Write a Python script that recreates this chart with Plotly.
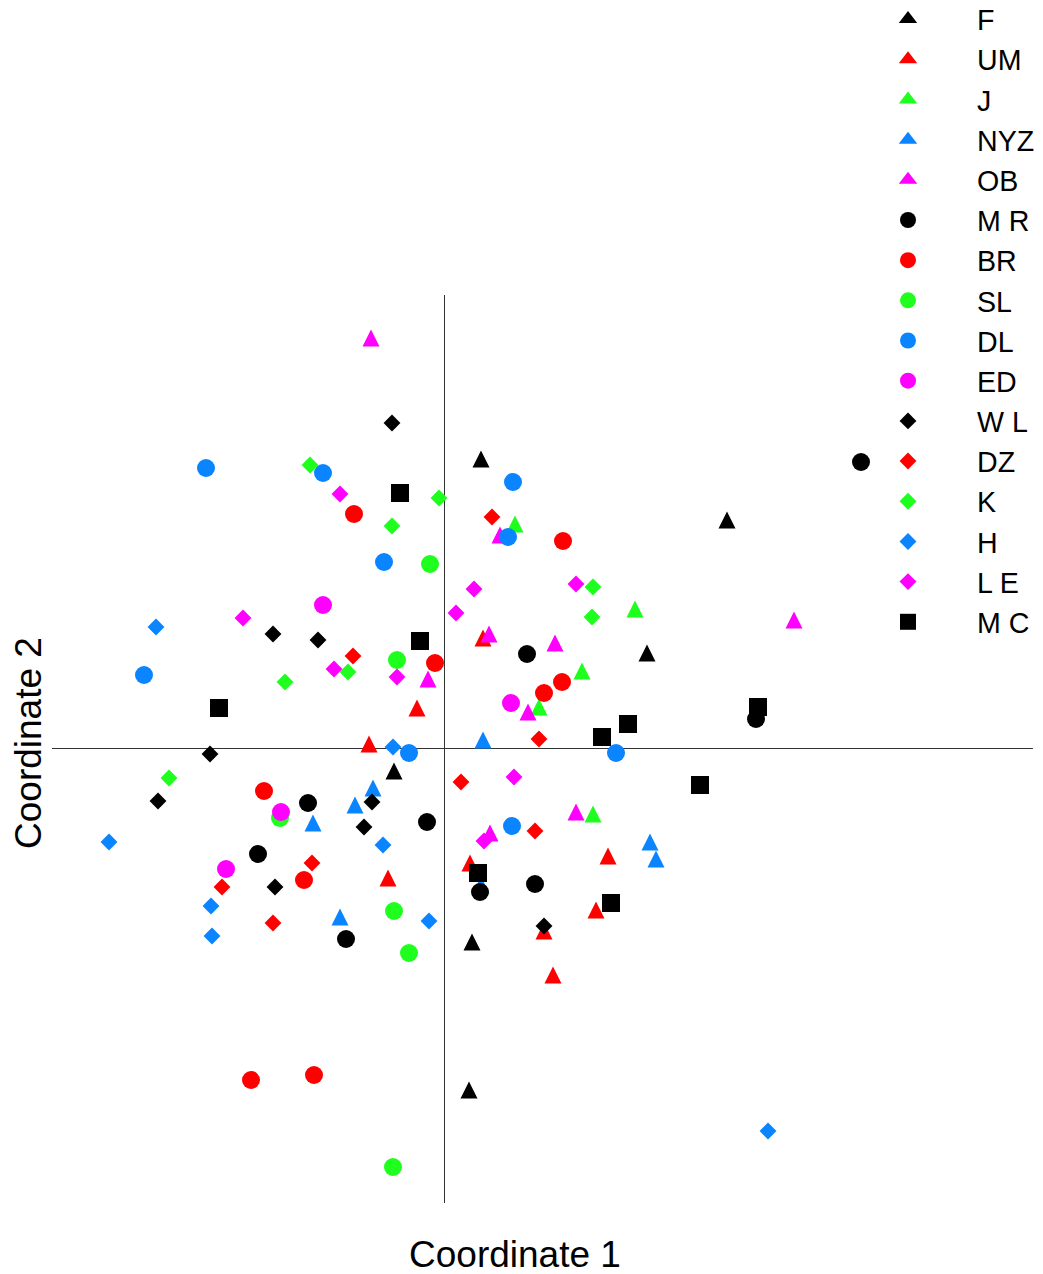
import plotly.graph_objects as go

# Principal coordinates for each population (Coordinate 1, Coordinate 2)
F_x = [0.037, 0.283, 0.203, -0.050, 0.028, 0.025]
F_y = [0.289, 0.228, 0.095, -0.023, -0.194, -0.342]

UM_x = [-0.075, -0.027, 0.039, -0.056, 0.026, 0.164, 0.152, 0.100, 0.109]
UM_y = [0.004, 0.040, 0.110, -0.130, -0.115, -0.108, -0.162, -0.183, -0.227]

J_x = [0.071, 0.191, 0.138, 0.095, 0.149]
J_y = [0.224, 0.139, 0.077, 0.041, -0.066]

NYZ_x = [0.039, -0.071, -0.089, -0.131, -0.104, 0.206, 0.212, 0.037]
NYZ_y = [0.008, -0.040, -0.057, -0.075, -0.169, -0.094, -0.111, -0.137]

OB_x = [-0.073, 0.056, 0.045, 0.111, -0.016, 0.084, 0.132, 0.046, 0.350]
OB_y = [0.410, 0.213, 0.114, 0.105, 0.069, 0.036, -0.064, -0.085, 0.128]

MR_x = [0.417, 0.083, 0.312, -0.136, -0.017, -0.186, -0.098, 0.036, 0.091]
MR_y = [0.286, 0.094, 0.029, -0.055, -0.074, -0.106, -0.191, -0.144, -0.136]

BR_x = [-0.090, 0.119, -0.009, 0.100, 0.118, -0.180, -0.140, -0.193, -0.130]
BR_y = [0.234, 0.207, 0.085, 0.055, 0.066, -0.043, -0.132, -0.332, -0.327]

SL_x = [-0.014, -0.047, -0.164, -0.050, -0.035, -0.051]
SL_y = [0.184, 0.088, -0.070, -0.163, -0.205, -0.419]

DL_x = [-0.238, -0.121, -0.060, 0.069, 0.064, -0.300, -0.035, 0.172, 0.068]
DL_y = [0.280, 0.275, 0.186, 0.266, 0.211, 0.073, -0.005, -0.005, -0.078]

ED_x = [-0.121, 0.067, -0.163, -0.218]
ED_y = [0.143, 0.045, -0.064, -0.121]

WL_x = [-0.052, -0.171, -0.126, -0.234, -0.286, -0.072, -0.080, -0.169, 0.100]
WL_y = [0.325, 0.114, 0.108, -0.006, -0.053, -0.054, -0.079, -0.139, -0.178]

DZ_x = [0.048, -0.091, 0.095, 0.017, 0.091, -0.132, -0.222, -0.171]
DZ_y = [0.231, 0.092, 0.009, -0.034, -0.083, -0.115, -0.139, -0.175]

K_x = [-0.134, -0.005, -0.052, 0.149, 0.148, -0.096, -0.159, -0.275]
K_y = [0.283, 0.250, 0.222, 0.161, 0.131, 0.076, 0.066, -0.030]

H_x = [-0.288, -0.051, -0.335, -0.061, -0.233, -0.015, -0.232, 0.324]
H_y = [0.121, 0.001, -0.094, -0.097, -0.158, -0.173, -0.188, -0.383]

LE_x = [-0.104, 0.030, 0.132, 0.012, -0.201, -0.110, -0.047, 0.070, 0.040]
LE_y = [0.254, 0.159, 0.164, 0.135, 0.130, 0.079, 0.071, -0.029, -0.093]

MC_x = [-0.044, -0.024, -0.225, 0.314, 0.184, 0.158, 0.256, 0.034, 0.167]
MC_y = [0.255, 0.107, 0.040, 0.041, 0.024, 0.011, -0.037, -0.125, -0.155]

BLACK = "#000000"
RED = "#FF0000"
GREEN = "#1EFF1E"
BLUE = "#0A84FF"
MAGENTA = "#FF00FF"

# name, x, y, symbol, colour
series = [
    ("F", F_x, F_y, "triangle", BLACK),
    ("UM", UM_x, UM_y, "triangle", RED),
    ("J", J_x, J_y, "triangle", GREEN),
    ("NYZ", NYZ_x, NYZ_y, "triangle", BLUE),
    ("OB", OB_x, OB_y, "triangle", MAGENTA),
    ("M R", MR_x, MR_y, "circle", BLACK),
    ("BR", BR_x, BR_y, "circle", RED),
    ("SL", SL_x, SL_y, "circle", GREEN),
    ("DL", DL_x, DL_y, "circle", BLUE),
    ("ED", ED_x, ED_y, "circle", MAGENTA),
    ("W L", WL_x, WL_y, "diamond", BLACK),
    ("DZ", DZ_x, DZ_y, "diamond", RED),
    ("K", K_x, K_y, "diamond", GREEN),
    ("H", H_x, H_y, "diamond", BLUE),
    ("L E", LE_x, LE_y, "diamond", MAGENTA),
    ("M C", MC_x, MC_y, "square", BLACK),
]

symbol_size = {"triangle": 17, "circle": 18, "diamond": 13, "square": 18}

# Plot-area geometry (pixels) and axis ranges
WIDTH, HEIGHT = 1043, 1274
M_L, M_R, M_T, M_B = 52, 10, 295, 71
X_RANGE = [-0.392, 0.589]
Y_RANGE = [-0.455, 0.453]
plot_h = HEIGHT - M_T - M_B
px_per_y = plot_h / (Y_RANGE[1] - Y_RANGE[0])

# Triangles are drawn with the equal-sided "arrow-up" glyph, whose anchor
# is its apex; lift each point by half the glyph height so the triangle is
# centred on its coordinate.
tri_lift = (symbol_size["triangle"] / 2) / px_per_y

fig = go.Figure()
for i, (name, xs, ys, sym, col) in enumerate(series):
    if sym == "triangle":
        fig.add_trace(go.Scatter(
            x=xs, y=[v + tri_lift for v in ys], mode="markers", name=name,
            showlegend=False, legendrank=i + 1,
            marker=dict(symbol="arrow-up", color=col,
                        size=symbol_size[sym], line=dict(width=0)),
        ))
        # legend entry with a centred triangle glyph
        fig.add_trace(go.Scatter(
            x=[None], y=[None], mode="markers", name=name,
            legendrank=i + 1,
            marker=dict(symbol="triangle-up", color=col, size=16,
                        line=dict(width=0)),
        ))
    else:
        fig.add_trace(go.Scatter(
            x=xs, y=ys, mode="markers", name=name, legendrank=i + 1,
            marker=dict(symbol=sym, color=col, size=symbol_size[sym],
                        line=dict(width=0)),
        ))

FONT = "Liberation Sans, Arial, Helvetica, sans-serif"
plot_w = WIDTH - M_L - M_R

fig.update_layout(
    width=WIDTH, height=HEIGHT,
    margin=dict(l=M_L, r=M_R, t=M_T, b=M_B, autoexpand=False),
    paper_bgcolor="white", plot_bgcolor="white",
    font=dict(family=FONT, color="black"),
    showlegend=True,
    legend=dict(
        x=(839 - M_L) / plot_w, y=1 + (M_T + 6) / plot_h,
        xanchor="left", yanchor="top",
        bgcolor="rgba(0,0,0,0)", borderwidth=0,
        font=dict(size=28.6, family=FONT, color="black"),
        itemwidth=128, traceorder="normal", maxheight=2000,
    ),
    xaxis=dict(range=X_RANGE, showgrid=False, showticklabels=False,
               ticks="", zeroline=True, zerolinecolor="#333333",
               zerolinewidth=1, showline=False, fixedrange=True),
    yaxis=dict(range=Y_RANGE, showgrid=False, showticklabels=False,
               ticks="", zeroline=True, zerolinecolor="#333333",
               zerolinewidth=1, showline=False, fixedrange=True),
    annotations=[
        dict(text="Coordinate 1", xref="paper", yref="paper",
             x=(515 - M_L) / plot_w, y=-(1254 - (HEIGHT - M_B)) / plot_h,
             xanchor="center", yanchor="middle", showarrow=False,
             font=dict(size=37, family=FONT, color="black")),
        dict(text="Coordinate 2", xref="paper", yref="paper",
             x=-(M_L - 28) / plot_w, y=((HEIGHT - M_B) - 743) / plot_h,
             textangle=-90, xanchor="center", yanchor="middle",
             showarrow=False,
             font=dict(size=37, family=FONT, color="black")),
    ],
)

fig.write_html("out.html")
